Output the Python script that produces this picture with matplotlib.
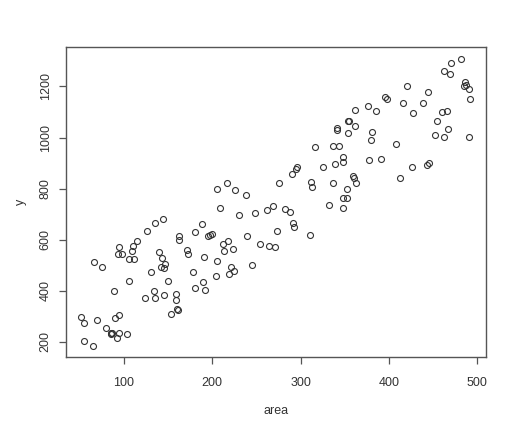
import numpy as np
from matplotlib import pyplot as plt

plt.rcParams['font.family'] = ['Liberation Sans', 'DejaVu Sans']

# area vs y
area = [143.8, 135.4, 126.4, 115.1, 109.9, 94.3, 108.7, 93.5, 98.1, 66.4,
        74.7, 106.0, 111.3, 140.0, 142.7, 146.8, 141.9, 145.3, 130.2, 105.3,
        88.3, 150.2, 134.3, 123.8, 135.4, 145.6, 158.9, 158.6, 160.4, 161.0,
        153.2, 161.9, 162.6, 171.0, 172.8, 188.7, 180.4, 195.5, 190.6, 177.8,
        189.1, 180.4, 191.7, 51.0, 55.0, 69.8, 89.8, 94.0, 79.6, 84.9,
        86.7, 85.0, 94.0, 92.1, 103.7, 55.0, 65.2,
        208.7, 230.6, 248.4, 262.3, 268.4, 282.3, 288.0, 291.0, 292.9, 273.0,
        310.3, 332.5, 347.7, 197.4, 199.3, 239.6, 254.0, 264.2, 271.0, 218.1,
        212.5, 213.6, 223.8, 205.0, 244.6, 221.2, 224.9, 218.9, 203.8,
        205.7, 217.0, 225.7, 237.8, 275.5, 290.3, 294.8, 296.3, 311.8, 312.6,
        316.3, 325.7, 337.0, 343.1, 339.0, 347.7, 348.4, 337.0, 352.2, 348.4,
        352.9, 340.9, 341.5, 353.3, 353.3,
        481.6, 470.0, 462.4, 469.2, 420.8, 444.6, 486.2, 487.3, 485.0, 491.0,
        491.8, 491.0, 395.6, 397.5, 416.3, 439.0, 427.6, 376.3, 385.0, 361.6,
        459.8, 465.5, 454.1, 466.9, 452.2, 462.8, 354.8, 361.6, 381.2, 379.7,
        407.7, 377.8, 391.0, 425.8, 412.6, 443.5, 445.8, 359.7, 360.5, 362.7]
y = [682, 665, 634, 594, 574, 571, 555, 543, 545, 514,
     491, 523, 523, 550, 528, 506, 493, 487, 472, 437,
     398, 437, 398, 371, 370, 381, 386, 363, 327, 323,
     307, 613, 597, 558, 545, 662, 630, 613, 532, 472,
     434, 412, 402, 295, 274, 285, 293, 304, 252, 233,
     235, 230, 235, 214, 229, 202, 184,
     722, 698, 704, 716, 730, 720, 709, 665, 649, 634,
     617, 734, 722, 617, 623, 614, 582, 575, 569, 594,
     584, 555, 565, 516, 502, 493, 476, 464, 457,
     799, 821, 796, 773, 821, 858, 877, 884, 825, 805,
     962, 886, 967, 967, 897, 923, 903, 821, 799, 764,
     764, 1037, 1030, 1063, 1016,
     1309, 1294, 1261, 1248, 1200, 1180, 1218, 1206, 1200, 1190,
     1152, 1003, 1160, 1151, 1137, 1136, 1098, 1125, 1105, 1109,
     1102, 1105, 1063, 1034, 1011, 1001, 1066, 1046, 1020, 991,
     973, 910, 915, 884, 842, 894, 901, 851, 842, 821]

xticks = [100, 200, 300, 400, 500]
yticks = [200, 400, 600, 800, 1000, 1200]

fig = plt.figure(figsize=(5.18, 4.38), dpi=100)
ax = fig.add_axes([0.1268, 0.1856, 0.8109, 0.7078])

ax.plot(area, y, 'o', mfc='none', mec='#333333', ms=4.3, mew=0.8)

ax.set_xlim(34, 509.6)
ax.set_ylim(141, 1356)
ax.set_xticks(xticks)
ax.set_yticks(yticks)
ax.set_yticklabels([str(t) for t in yticks], rotation=90, va='center')

for s in ax.spines.values():
    s.set_color('#555555')
    s.set_linewidth(1.0)
ax.tick_params(axis='both', direction='out', length=5, width=0.9,
               colors='#555555', labelcolor='#333333', labelsize=9)
ax.tick_params(axis='x', pad=9.4)
ax.tick_params(axis='y', pad=5)

ax.set_xlabel('area', fontsize=9, color='#333333', labelpad=12)
ax.set_ylabel('y', fontsize=9, color='#333333', labelpad=9)

fig.savefig('out.png')
